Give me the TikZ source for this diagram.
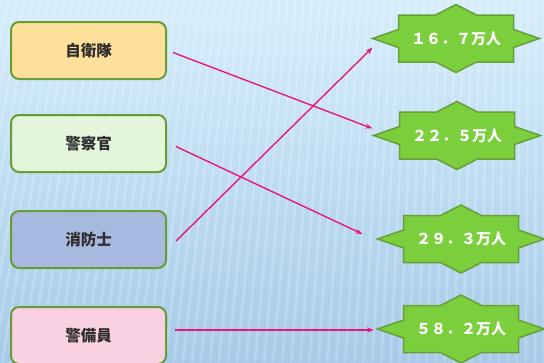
\documentclass[tikz,border=0pt]{standalone}
\usepackage{fontspec}
\setmainfont{Noto Sans CJK JP}
\usetikzlibrary{calc,arrows.meta}

\definecolor{boxline}{HTML}{6A9C35}
\definecolor{textgrey}{HTML}{2E2E2E}
\definecolor{fillsdf}{HTML}{FFE09B}
\definecolor{fillpol}{HTML}{E3F5DA}
\definecolor{fillfire}{HTML}{A8B9DF}
\definecolor{fillguard}{HTML}{FAD0E3}
\definecolor{starfill}{HTML}{7BCF3D}
\definecolor{starline}{HTML}{6A9F38}
\definecolor{linkpink}{HTML}{E6197A}
\definecolor{bgtop}{HTML}{D6EEFC}
\definecolor{bgbottom}{HTML}{A6CAE8}

\tikzset{
  jobbox/.style={draw=boxline, line width=2pt, rounded corners=8pt,
    minimum width=155pt, minimum height=57pt, inner sep=0pt,
    font=\bfseries\fontsize{15.5}{16}\selectfont, text=textgrey},
  starnum/.style={font=\bfseries\fontsize{15}{16}\selectfont, text=white, inner sep=0pt},
  link/.style={draw=linkpink, line width=1.4pt, -{Stealth[length=7pt,width=5pt]}},
}

% eight-point badge: name, centre, text
\newcommand\badge[3]{%
  \draw[shift={#2}, fill=starfill, draw=starline, line width=1.5pt, line join=miter]
    (-83.5,0) -- (-57.5,-9) -- (-57.5,-23.5) -- (-20.5,-23.5) -- (0,-34)
    -- (20.5,-23.5) -- (57.5,-23.5) -- (57.5,-9) -- (83.5,0) -- (57.5,9)
    -- (57.5,23.5) -- (20.5,23.5) -- (0,34) -- (-20.5,23.5) -- (-57.5,23.5)
    -- (-57.5,9) -- cycle;
  \node[starnum] (#1) at #2 {#3};
}

\begin{document}
\begin{tikzpicture}[x=1pt, y=-1pt]
  \useasboundingbox (0,0) rectangle (544,362);
  \clip (0,0) rectangle (544,362);
  % background
  \fill[top color=bgtop, bottom color=bgbottom] (0,0) rectangle (544,362);
  \foreach \i in {-40,-32,...,560}{
    \pgfmathsetmacro\lean{70*(1-\i/544)}
    \draw[white, opacity=0.2, line width=2.5pt] (\i,0) -- (\i-\lean,362);
  }

  % jobs
  \node[jobbox, fill=fillsdf]   (b1) at (88.5,50.5)  {自衛隊};
  \node[jobbox, fill=fillpol]   (b2) at (88.5,143.5) {警察官};
  \node[jobbox, fill=fillfire]  (b3) at (88.5,239.5) {消防士};
  \node[jobbox, fill=fillguard] (b4) at (88.5,335.5) {警備員};

  % numbers
  \badge{s1}{(456,38.5)}{１６．７万人}
  \badge{s2}{(457,135.5)}{２２．５万人}
  \badge{s3}{(461,239)}{２９．３万人}
  \badge{s4}{(461,329)}{５８．２万人}

  \coordinate (t1) at ($(s1)+(-83.5,9)$);
  \coordinate (t2) at ($(s2)+(-84.5,-7)$);
  \coordinate (t3) at ($(s3)+(-98.5,-5)$);
  \coordinate (t4) at ($(s4)+(-87,1)$);

  % answers
  \draw[link] ([shift={(6,2)}]b1.east) -- (t2);
  \draw[link] ([shift={(9,3)}]b2.east) -- (t3);
  \draw[link] ([shift={(9,1.5)}]b3.east) -- (t1);
  \draw[link] ([shift={(8,-5.5)}]b4.east) -- (t4);
\end{tikzpicture}
\end{document}
